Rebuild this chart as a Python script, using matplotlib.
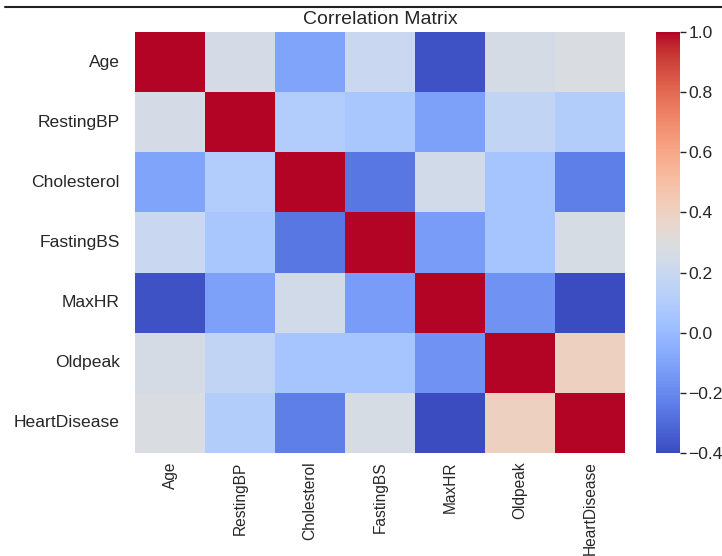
import numpy as np
import pandas as pd
import seaborn as sns
import matplotlib
matplotlib.use("Agg")
import matplotlib.pyplot as plt
from matplotlib.lines import Line2D

features = ["Age", "RestingBP", "Cholesterol", "FastingBS", "MaxHR", "Oldpeak", "HeartDisease"]

# pairwise correlations (upper triangle, row by row)
age = [1.0, 0.254, -0.095, 0.198, -0.382, 0.259, 0.282]
resting_bp = [0.101, 0.070, -0.112, 0.165, 0.108]
cholesterol = [-0.261, 0.236, 0.050, -0.233]
fasting_bs = [-0.131, 0.053, 0.267]
max_hr = [-0.161, -0.400]
oldpeak = [0.404]

n = len(features)
corr = np.eye(n)
rows = [age[1:], resting_bp, cholesterol, fasting_bs, max_hr, oldpeak]
for i, vals in enumerate(rows):
    for k, v in enumerate(vals):
        j = i + 1 + k
        corr[i, j] = corr[j, i] = v
corr_df = pd.DataFrame(corr, index=features, columns=features)

sns.set_style("white")
plt.rcParams["font.family"] = ["Liberation Sans", "DejaVu Sans"]
plt.rcParams["text.color"] = ".15"
plt.rcParams["xtick.color"] = ".15"
plt.rcParams["ytick.color"] = ".15"

W, H = 722, 556
fig = plt.figure(figsize=(W / 100, H / 100), dpi=100)
ax = fig.add_axes([135 / W, 1 - 453 / H, 490 / W, 421 / H])
cax = fig.add_axes([656 / W, 1 - 453 / H, 24 / W, 421 / H])

sns.heatmap(corr_df, cmap="coolwarm", ax=ax, cbar_ax=cax, vmin=-0.4, vmax=1.0)
ax.set_title("Correlation Matrix", fontsize=14)
ax.tick_params(axis="y", length=0, labelsize=12.6, pad=11)
ax.tick_params(axis="x", length=0, labelsize=11.2, pad=6)
ax.set_xticklabels(features, rotation=90)
ax.set_yticklabels(features, rotation=0)

cax.set_yticks([-0.4, -0.2, 0.0, 0.2, 0.4, 0.6, 0.8, 1.0])
cax.tick_params(labelsize=12.6, length=4, width=1, color=".15", pad=2)
cax.set_yticklabels(["\u22120.4", "\u22120.2", "0.0", "0.2", "0.4", "0.6", "0.8", "1.0"])
for s in cax.spines.values():
    s.set_visible(False)

fig.add_artist(Line2D([5 / W, 1.0], [1 - 7 / H, 1 - 7 / H], color="#222222", lw=1.5))

fig.savefig("out.png", dpi=100)
